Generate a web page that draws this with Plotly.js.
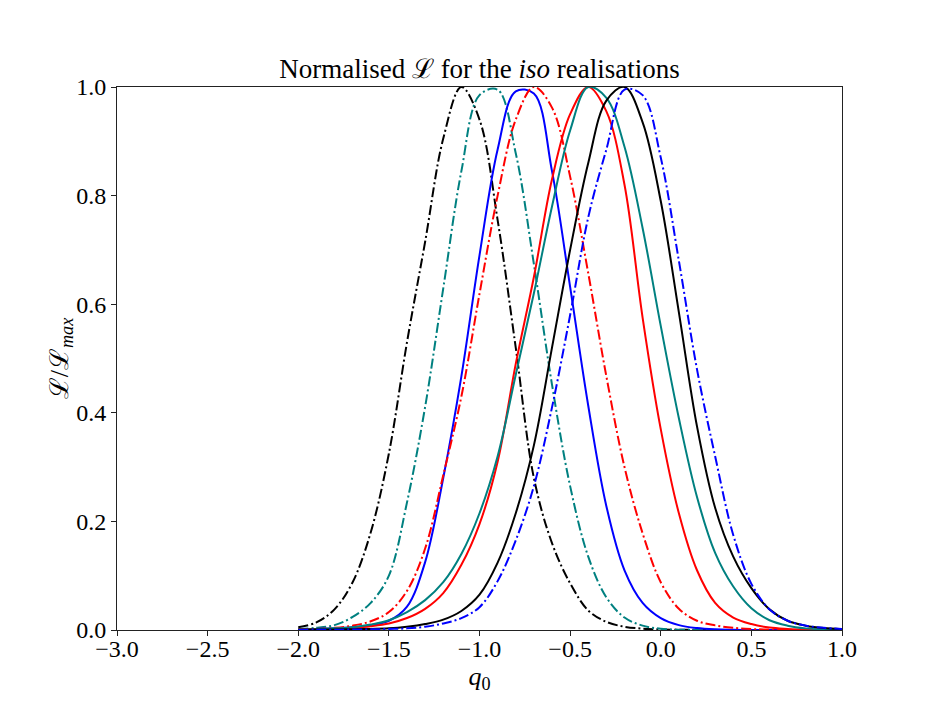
<!DOCTYPE html>
<html>
<head>
<meta charset="utf-8">
<script src="https://cdn.plot.ly/plotly-3.0.1.min.js"></script>
<style>
  html, body { margin: 0; padding: 0; background: #fff; }
  #chart { width: 936px; height: 720px; }
</style>
</head>
<body>
<div id="chart"></div>
<script>
// q0 sample points
var q0 = [-2.0, -1.9, -1.8, -1.7, -1.6, -1.5, -1.4, -1.3, -1.2, -1.1, -1.0,
          -0.9, -0.8, -0.7, -0.6, -0.5, -0.4, -0.3, -0.2, -0.1, 0.0,
          0.1, 0.2, 0.3, 0.4, 0.5, 0.6, 0.7, 0.8, 0.9, 1.0];

// normalised likelihood of each realisation
var blackDashDot = [0.005, 0.014, 0.038, 0.088, 0.18, 0.325, 0.53, 0.715, 0.905, 1.0, 0.94,
                    0.755, 0.52, 0.28, 0.16, 0.086, 0.036, 0.015, 0.006, 0.0025, 0.001,
                    0.0005, 0.0002, 0.0001, 0, 0, 0, 0, 0, 0, 0];
var tealDashDot = [0.002, 0.004, 0.009, 0.024, 0.05, 0.10, 0.235, 0.411, 0.629, 0.845, 0.985,
                   0.995, 0.878, 0.674, 0.452, 0.265, 0.135, 0.06, 0.023, 0.008, 0.0023,
                   0.0006, 0.0001, 0, 0, 0, 0, 0, 0, 0, 0];
var blueSolid = [0.001, 0.002, 0.003, 0.005, 0.009, 0.017, 0.043, 0.125, 0.28, 0.467, 0.69,
                 0.885, 0.992, 0.988, 0.845, 0.632, 0.413, 0.228, 0.11, 0.05, 0.022,
                 0.009, 0.0035, 0.0012, 0.0004, 0.0001, 0, 0, 0, 0, 0];
var redDashDot = [0.001, 0.002, 0.004, 0.008, 0.016, 0.033, 0.072, 0.15, 0.285, 0.43, 0.619,
                  0.80, 0.94, 1.0, 0.962, 0.835, 0.657, 0.467, 0.30, 0.178, 0.088,
                  0.039, 0.017, 0.0085, 0.004, 0.0018, 0.0008, 0.0003, 0.0001, 0, 0];
var redSolid = [0.001, 0.0015, 0.002, 0.004, 0.007, 0.012, 0.022, 0.039, 0.068, 0.12, 0.195,
                0.31, 0.49, 0.65, 0.83, 0.95, 1.0, 0.955, 0.82, 0.575, 0.37,
                0.215, 0.11, 0.05, 0.023, 0.011, 0.0045, 0.002, 0.0008, 0.0003, 0.0001];
var tealSolid = [0.001, 0.0015, 0.003, 0.005, 0.01, 0.018, 0.033, 0.055, 0.088, 0.14, 0.215,
                 0.32, 0.47, 0.62, 0.78, 0.92, 1.0, 0.98, 0.89, 0.74, 0.56,
                 0.39, 0.245, 0.142, 0.08, 0.04, 0.018, 0.008, 0.003, 0.0012, 0.0005];
var blackSolid = [0.0005, 0.0008, 0.001, 0.0015, 0.002, 0.003, 0.006, 0.011, 0.019, 0.035, 0.065,
                  0.124, 0.215, 0.34, 0.52, 0.70, 0.86, 0.975, 1.0, 0.935, 0.79,
                  0.585, 0.375, 0.225, 0.135, 0.077, 0.038, 0.017, 0.008, 0.0035, 0.0015];
var blueDashDot = [0.0002, 0.0003, 0.0005, 0.0008, 0.0012, 0.002, 0.003, 0.006, 0.012, 0.022, 0.042,
                   0.09, 0.165, 0.265, 0.41, 0.58, 0.76, 0.885, 0.995, 0.985, 0.87,
                   0.68, 0.48, 0.32, 0.175, 0.085, 0.038, 0.017, 0.008, 0.004, 0.002];

var series = [blackDashDot, tealDashDot, blueSolid, redDashDot, redSolid, tealSolid, blackSolid, blueDashDot];
var colors = ['#000000', '#008080', '#0000ff', '#ff0000', '#ff0000', '#008080', '#000000', '#0000ff'];
var dashes = ['dd', 'dd', 'solid', 'dd', 'solid', 'solid', 'solid', 'dd'];

var dashDot = '10px,3px,2px,3px';
var font = 'Liberation Serif, DejaVu Serif, serif';

var data = [];
for (var i = 0; i < series.length; i++) {
  data.push({
    x: q0,
    y: series[i],
    type: 'scatter',
    mode: 'lines',
    hoverinfo: 'skip',
    line: {
      color: colors[i],
      width: 2,
      shape: 'spline',
      smoothing: 1,
      dash: dashes[i] == 'dd' ? dashDot : 'solid'
    }
  });
}

var layout = {
  width: 936,
  height: 720,
  showlegend: false,
  paper_bgcolor: '#fff',
  plot_bgcolor: '#fff',
  margin: {l: 117, r: 94, t: 87, b: 90},
  font: {family: font, size: 24, color: '#000'},
  title: {
    text: 'Normalised \u2112 for the <i>iso</i> realisations',
    font: {family: font, size: 27, color: '#000'},
    x: 0.5,
    xref: 'paper',
    y: 1,
    yref: 'paper',
    yanchor: 'bottom',
    pad: {b: 9}
  },
  xaxis: {
    range: [-3, 1],
    dtick: 0.5,
    tick0: -3,
    tickformat: '.1f',
    showgrid: false,
    zeroline: false,
    showline: true,
    mirror: true,
    linecolor: '#222',
    linewidth: 1,
    ticks: 'outside',
    ticklen: 5,
    tickcolor: '#222',
    ticklabelstandoff: -8,
    tickfont: {family: font, size: 24, color: '#000'},
    title: {text: '<i>q</i><sub>0</sub>', font: {family: font, size: 26, color: '#000'}, standoff: 0}
  },
  yaxis: {
    range: [0, 1],
    dtick: 0.2,
    tickformat: '.1f',
    showgrid: false,
    zeroline: false,
    showline: true,
    mirror: true,
    linecolor: '#222',
    linewidth: 1,
    ticks: 'outside',
    ticklen: 5,
    tickcolor: '#222',
    tickfont: {family: font, size: 24, color: '#000'},
    title: {text: '\u2112/\u2112<sub><i>max</i></sub>', font: {family: font, size: 26, color: '#000'}, standoff: 0}
  }
};

Plotly.newPlot('chart', data, layout, {displayModeBar: false, staticPlot: true});
</script>
</body>
</html>
